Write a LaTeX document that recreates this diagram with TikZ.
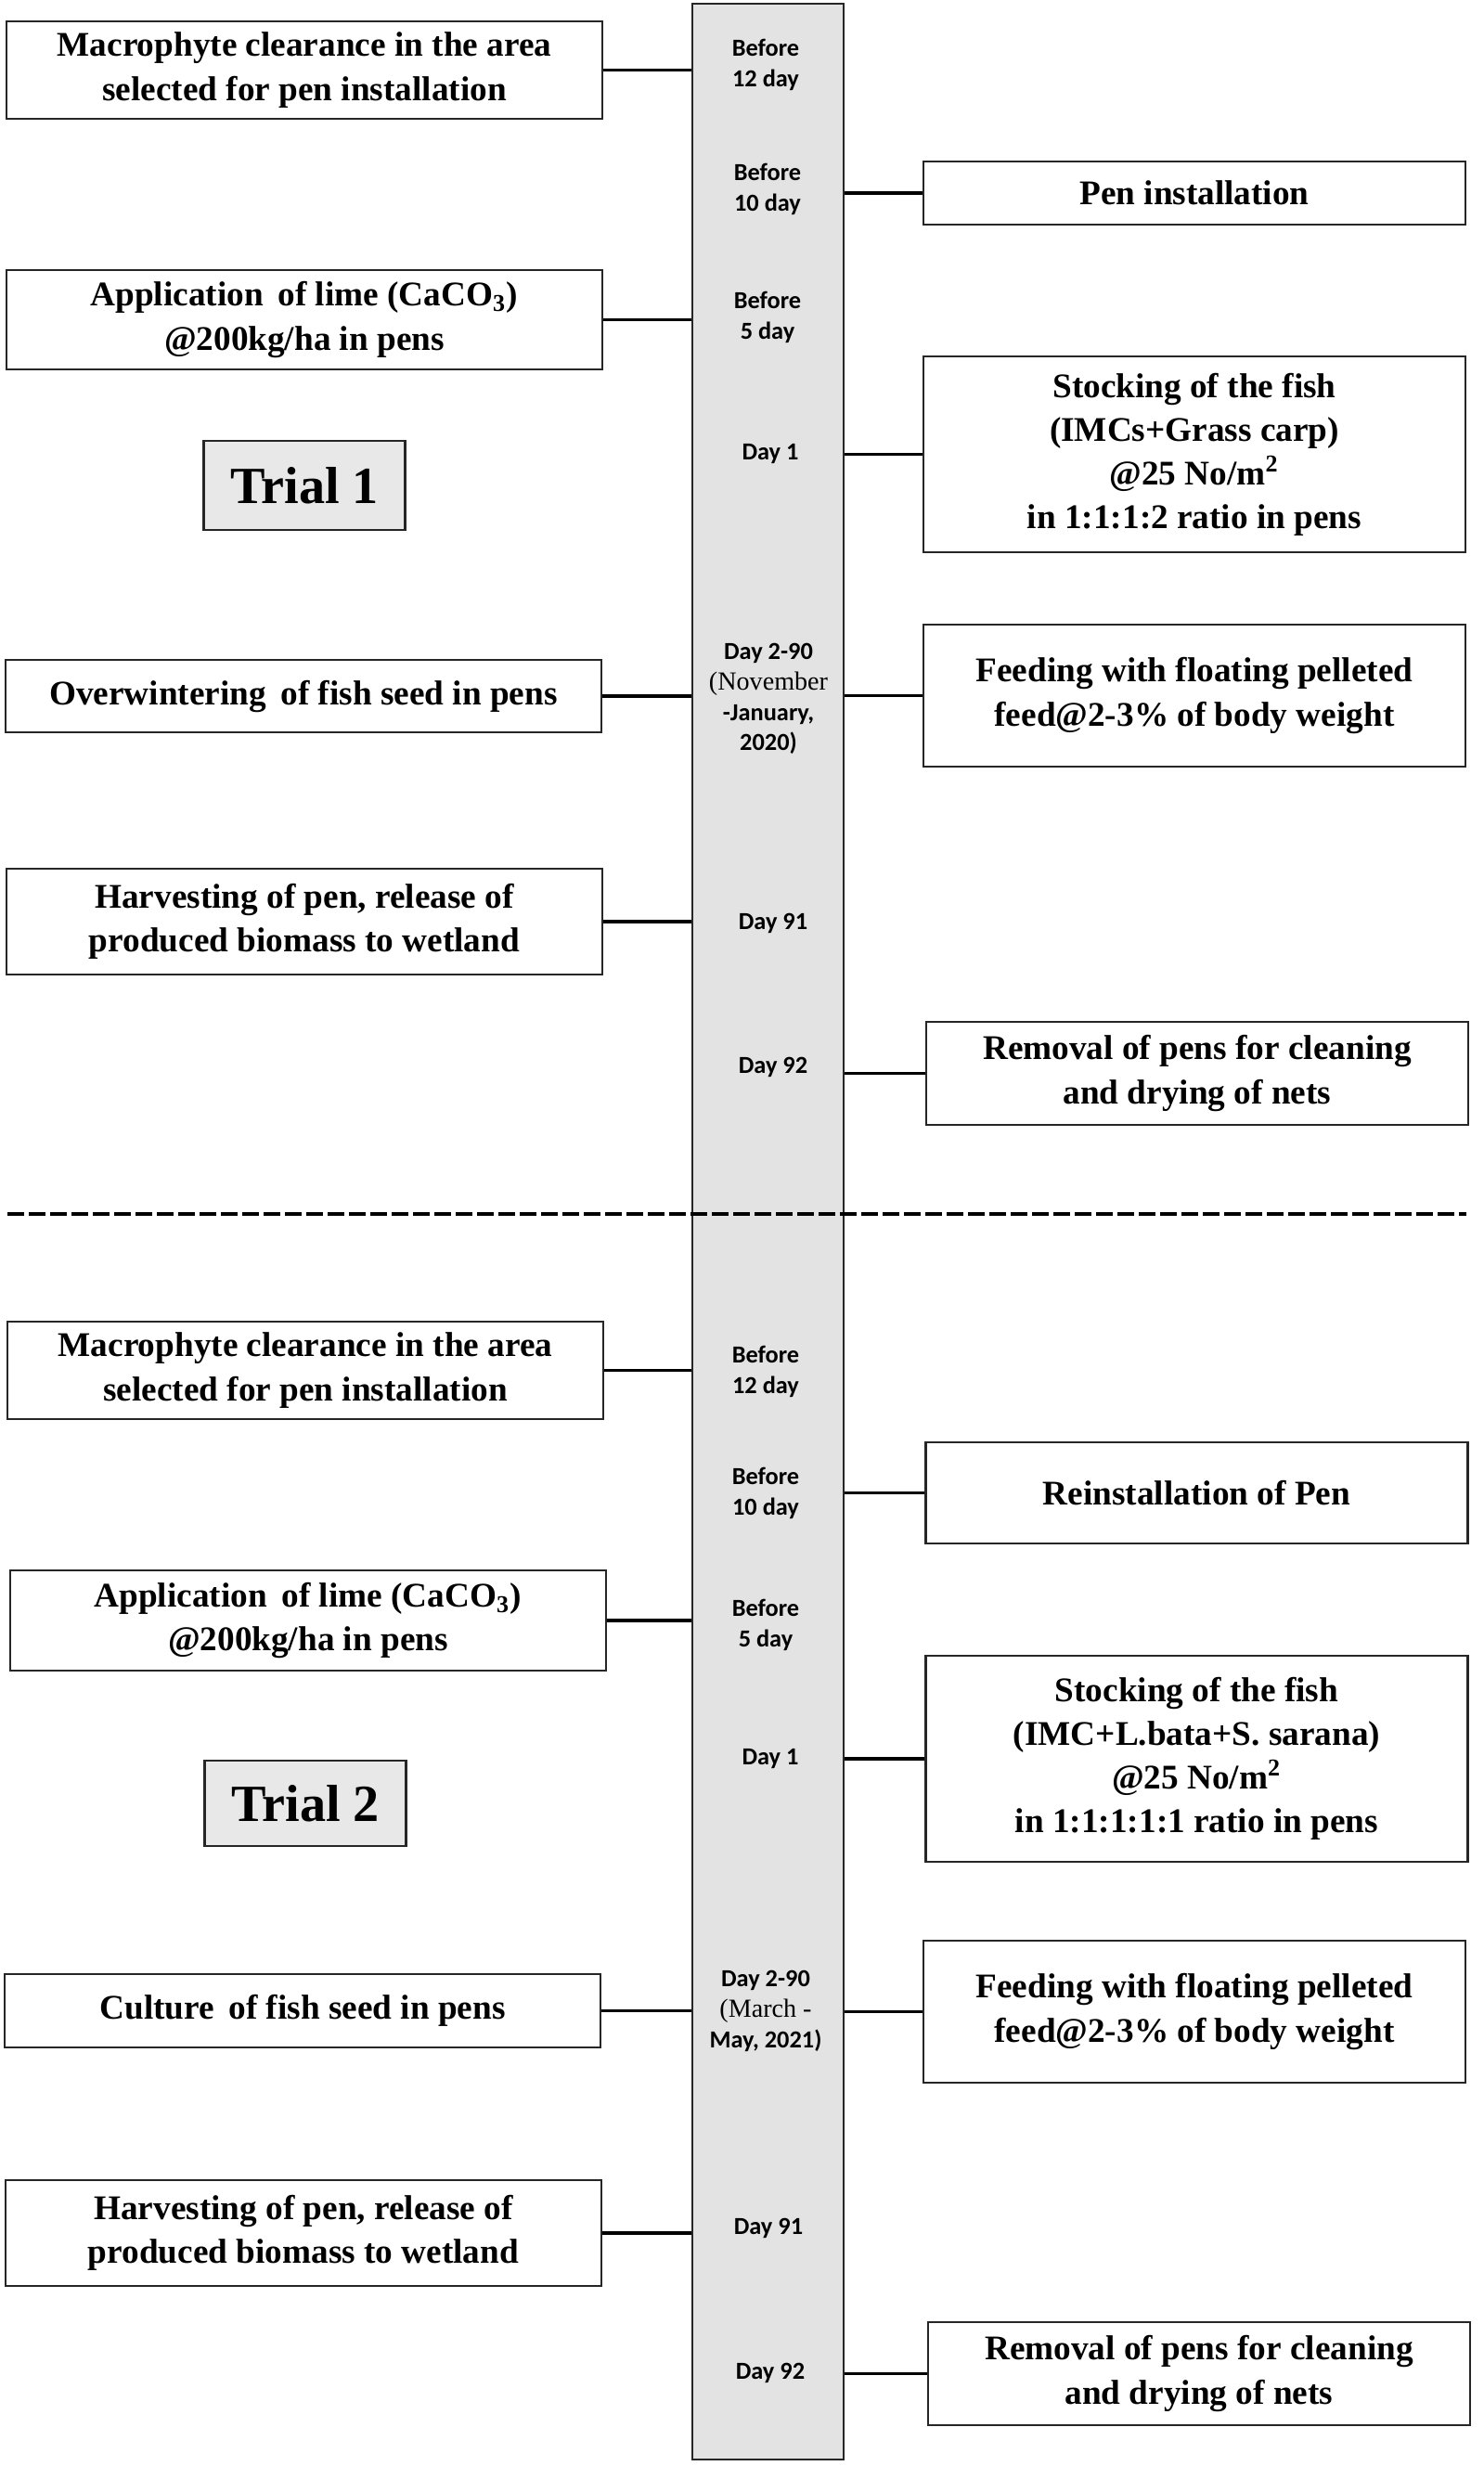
\documentclass[tikz,border=0pt]{standalone}
\usepackage{fontspec}
\setmainfont{Liberation Serif}
\newfontfamily\dayfont{Carlito}
\def\boxfont{\fontsize{10.6}{13.4}\selectfont\bfseries}
\def\monthfont{\rmfamily\mdseries\fontsize{8}{8.6}\selectfont}
\tikzset{
  stage/.style={draw=black!85, line width=0.7pt, fill=white, align=center, inner sep=2pt, font=\boxfont},
  lbox/.style={stage, minimum width=6.42cm},
  rbox/.style={stage, minimum width=5.84cm},
  trialbox/.style={draw=black!85, line width=0.8pt, fill=black!9, minimum width=2.17cm, font=\fontsize{16}{18}\selectfont\bfseries},
  daylabel/.style={align=center, inner sep=0pt, font=\dayfont\fontsize{7.5}{9.3}\selectfont\bfseries},
  link/.style={line width=1.1pt},
}
\begin{document}
\begin{tikzpicture}
\useasboundingbox (0,0) rectangle (15.98,-26.57);
%\draw[help lines] (0,-27) grid (16,0);

% time line
\node[draw=black!85, line width=0.7pt, fill=black!11, minimum width=1.63cm, minimum height=26.46cm, inner sep=0] (tl) at (8.275,-13.27) {};

% Trial 1
\node[lbox, minimum height=1.05cm] (m1) at (3.28,-0.755) {Macrophyte clearance in the area\\selected for pen installation};
\node[lbox, minimum height=1.07cm] (l1) at (3.28,-3.445) {Application\, of lime (CaCO\textsubscript{3})\\@200kg/ha in pens};
\node[trialbox, minimum height=0.96cm] (t1) at (3.28,-5.23) {Trial 1};
\node[lbox, minimum height=0.78cm] (o1) at (3.27,-7.50) {Overwintering\, of fish seed in pens};
\node[lbox, minimum height=1.14cm] (h1) at (3.28,-9.93) {Harvesting of pen, release of\\produced biomass to wetland};
\node[rbox, minimum height=0.68cm] (p1) at (12.87,-2.08) {Pen installation};
\node[rbox, minimum height=2.11cm] (s1) at (12.87,-4.895) {Stocking of the fish\\(IMCs+Grass carp)\\@25 No/m\textsuperscript{2}\\in 1:1:1:2 ratio in pens};
\node[rbox, minimum height=1.53cm] (f1) at (12.87,-7.495) {Feeding with floating pelleted\\feed@2-3\% of body weight};
\node[rbox, minimum height=1.11cm] (r1) at (12.90,-11.565) {Removal of pens for cleaning\\and drying of nets};

\node[daylabel] (d1a) at (8.25,-0.70) {Before\\12 day};
\node[daylabel] (d1b) at (8.27,-2.04) {Before\\10 day};
\node[daylabel] (d1c) at (8.27,-3.42) {Before\\5 day};
\node[daylabel] (d1d) at (8.30,-4.89) {Day 1};
\node[daylabel] (d1e) at (8.28,-7.53) {Day 2-90\\ \monthfont (November\\-January,\\2020)};
\node[daylabel] (d1f) at (8.33,-9.95) {Day 91};
\node[daylabel] (d1g) at (8.33,-11.50) {Day 92};

\draw[link] (m1.east) -- (m1.east -| tl.west);
\draw[link] (l1.east) -- (l1.east -| tl.west);
\draw[link] (o1.east) -- (o1.east -| tl.west);
\draw[link] (h1.east) -- (h1.east -| tl.west);
\draw[link] (p1.west) -- (p1.west -| tl.east);
\draw[link] (s1.west) -- (s1.west -| tl.east);
\draw[link] (f1.west) -- (f1.west -| tl.east);
\draw[link] (r1.west) -- (r1.west -| tl.east);

% separation
\coordinate (cutL) at (0.08,-13.08);
\coordinate (cutR) at (15.80,-13.08);
\draw[line width=1pt, dash pattern=on 0.18cm off 0.05cm] (cutL) -- (cutR);

% Trial 2
\node[lbox, minimum height=1.05cm] (m2) at (3.29,-14.765) {Macrophyte clearance in the area\\selected for pen installation};
\node[lbox, minimum height=1.08cm] (l2) at (3.32,-17.46) {Application\, of lime (CaCO\textsubscript{3})\\@200kg/ha in pens};
\node[trialbox, minimum height=0.92cm] (t2) at (3.29,-19.43) {Trial 2};
\node[lbox, minimum height=0.79cm] (c2) at (3.26,-21.665) {Culture\, of fish seed in pens};
\node[lbox, minimum height=1.14cm] (h2) at (3.27,-24.06) {Harvesting of pen, release of\\produced biomass to wetland};
\node[rbox, minimum height=1.09cm] (p2) at (12.895,-16.085) {Reinstallation of Pen};
\node[rbox, minimum height=2.22cm] (s2) at (12.895,-18.95) {Stocking of the fish\\(IMC+L.bata+S. sarana)\\@25 No/m\textsuperscript{2}\\in 1:1:1:1:1 ratio in pens};
\node[rbox, minimum height=1.53cm] (f2) at (12.87,-21.675) {Feeding with floating pelleted\\feed@2-3\% of body weight};
\node[rbox, minimum height=1.11cm] (r2) at (12.92,-25.575) {Removal of pens for cleaning\\and drying of nets};

\node[daylabel] (d2a) at (8.25,-14.78) {Before\\12 day};
\node[daylabel] (d2b) at (8.25,-16.09) {Before\\10 day};
\node[daylabel] (d2c) at (8.25,-17.51) {Before\\5 day};
\node[daylabel] (d2d) at (8.30,-18.95) {Day 1};
\node[daylabel] (d2e) at (8.25,-21.67) {Day 2-90\\ \monthfont (March -\\May, 2021)};
\node[daylabel] (d2f) at (8.28,-24.01) {Day 91};
\node[daylabel] (d2g) at (8.30,-25.57) {Day 92};

\draw[link] (m2.east) -- (m2.east -| tl.west);
\draw[link] (l2.east) -- (l2.east -| tl.west);
\draw[link] (c2.east) -- (c2.east -| tl.west);
\draw[link] (h2.east) -- (h2.east -| tl.west);
\draw[link] (p2.west) -- (p2.west -| tl.east);
\draw[link] (s2.west) -- (s2.west -| tl.east);
\draw[link] (f2.west) -- (f2.west -| tl.east);
\draw[link] (r2.west) -- (r2.west -| tl.east);
\end{tikzpicture}
\end{document}
